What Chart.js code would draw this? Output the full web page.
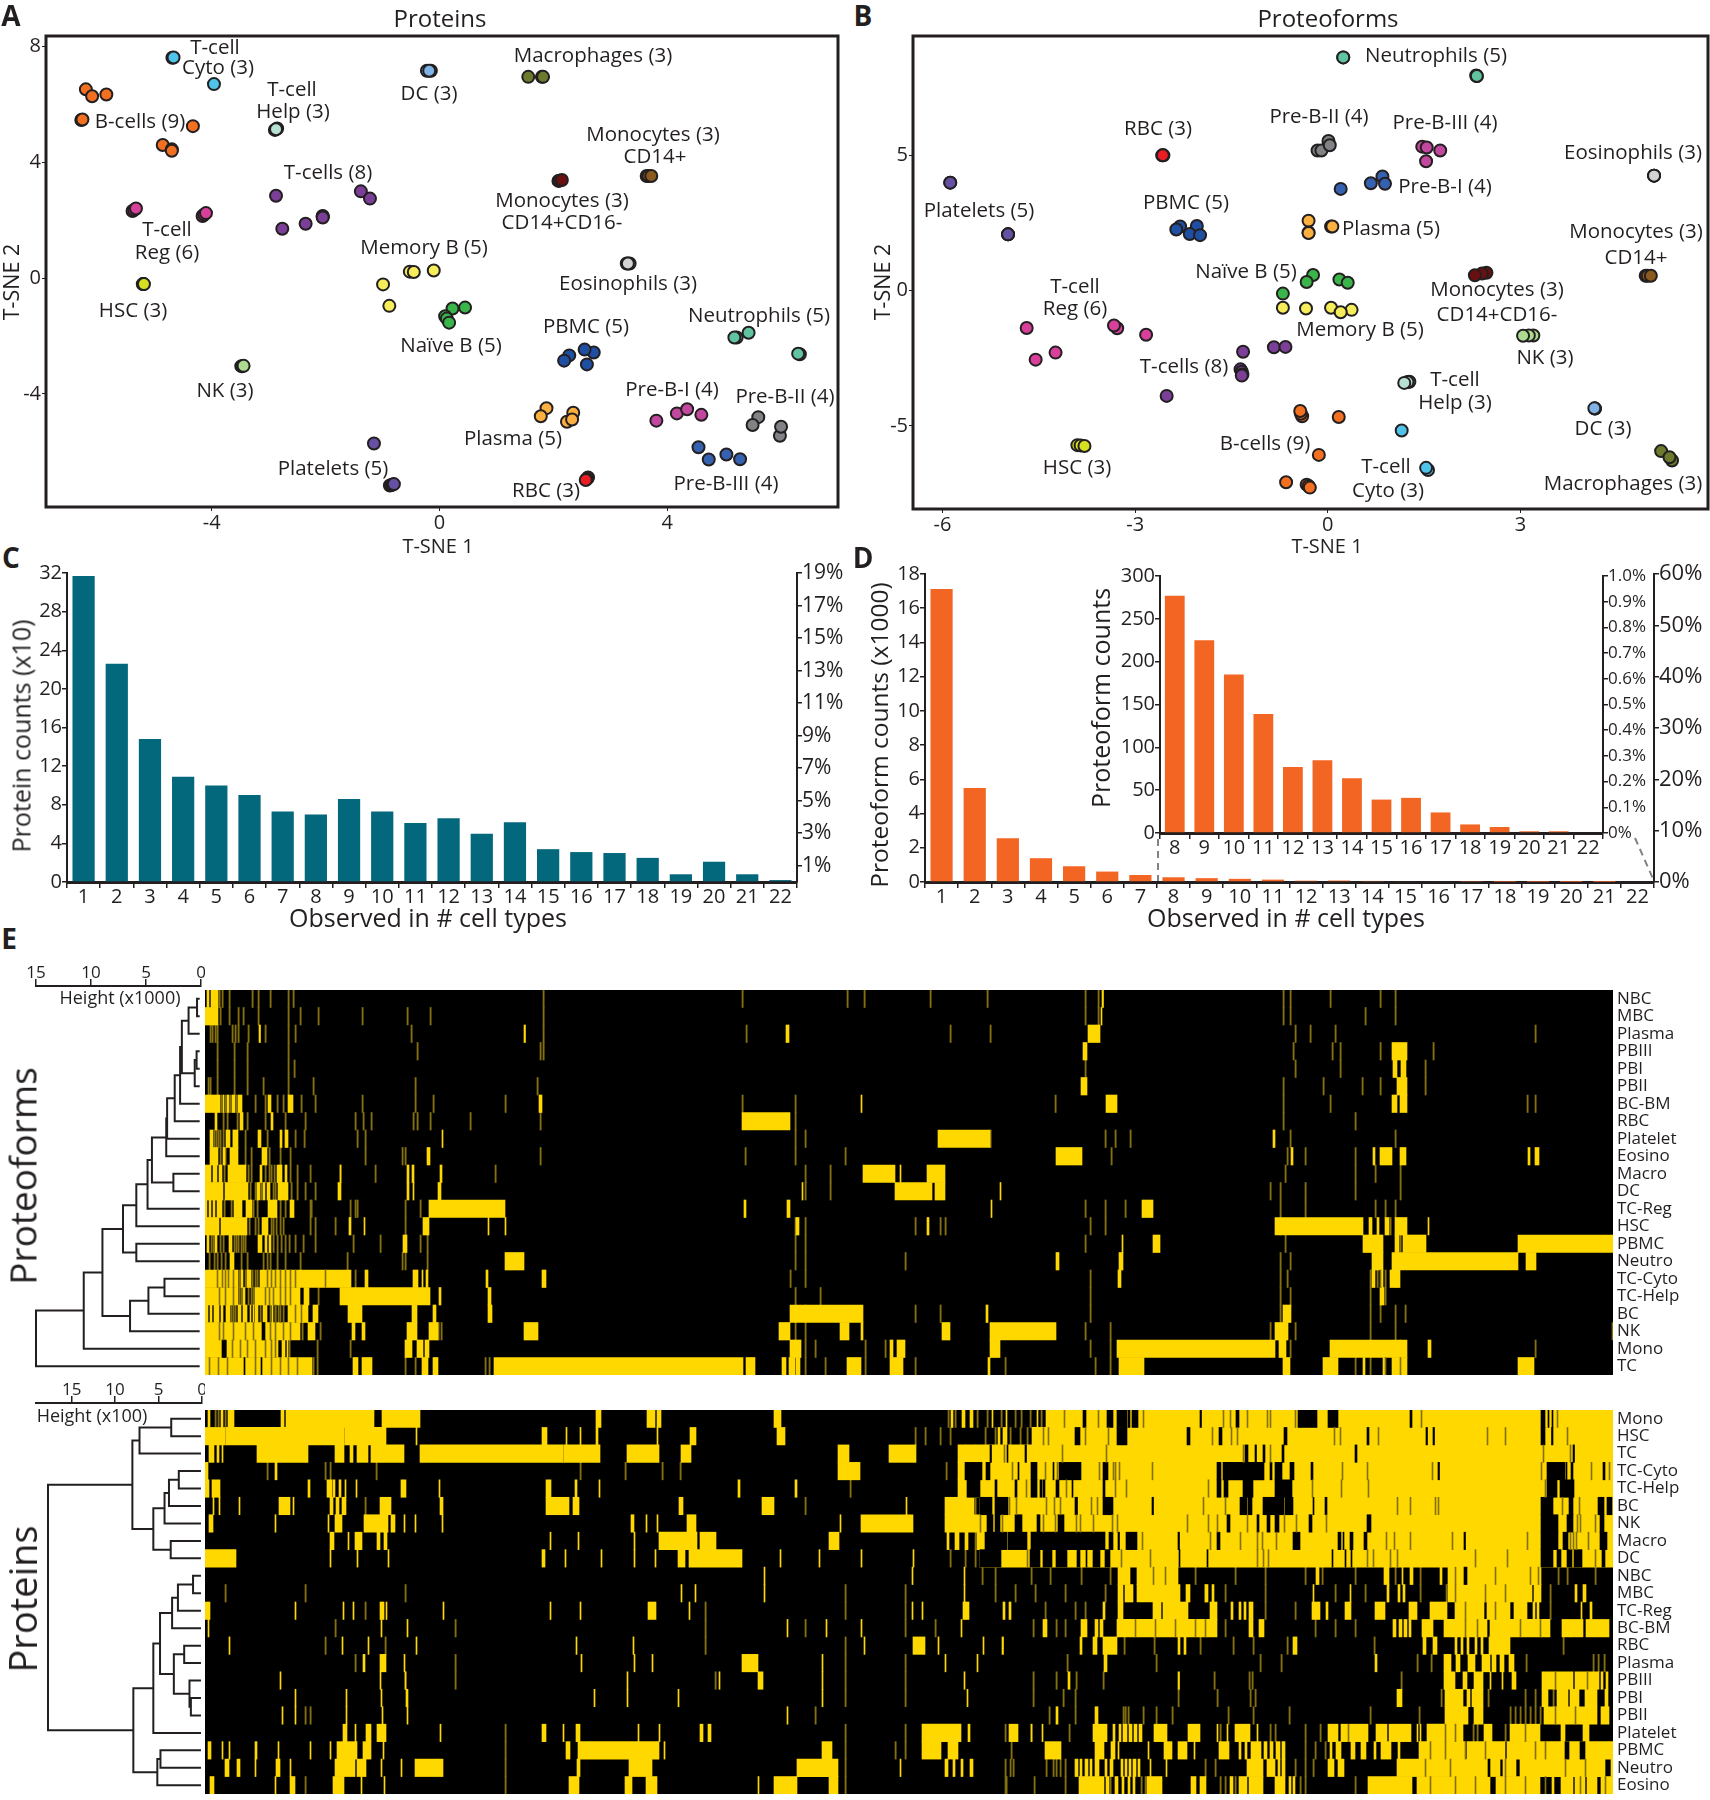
<!DOCTYPE html>
<html>
<head>
<meta charset="utf-8">
<title>Proteins and proteoforms</title>
<script src="https://cdn.jsdelivr.net/npm/chart.js@4/dist/chart.umd.min.js"></script>
<style>
  body { margin: 0; background: #fff; }
  #page { position: relative; width: 1710px; height: 1800px; overflow: hidden; background: #fff; }
  canvas { position: absolute; }
  .note { position: absolute; white-space: nowrap; color: #231f20; font-family: "Open Sans", sans-serif; transform: translate(-50%, -50%); line-height: 1; }
</style>
</head>
<body>
<div id="page"></div>
<script>
// A: proteins t-sne, one list per cell type
var aTcyto = [[-4.69,7.6],[-4.67,7.61],[-3.96,6.69]];
var aBcell = [[-6.21,6.51],[-6.10,6.27],[-5.85,6.33],[-6.29,5.45],[-6.27,5.47],[-4.33,5.24],[-4.86,4.59],[-4.70,4.44],[-4.70,4.39]];
var aThelp = [[-2.89,5.11],[-2.85,5.16],[-2.87,5.13]];
var aDC = [[-0.22,7.15],[-0.15,7.15],[-0.18,7.15]];
var aMacro = [[1.56,6.94],[1.80,6.94],[1.82,6.94]];
var aMono14 = [[3.64,3.52],[3.67,3.52],[3.72,3.52]];
var aMono1416 = [[2.09,3.35],[2.11,3.36],[2.15,3.38]];
var aTcell = [[-2.87,2.84],[-1.38,2.99],[-1.22,2.74],[-2.05,2.14],[-2.05,2.12],[-2.05,2.09],[-2.35,1.87],[-2.76,1.70]];
var aTreg = [[-5.39,2.31],[-5.36,2.35],[-5.33,2.40],[-4.16,2.14],[-4.13,2.19],[-4.10,2.24]];
var aHSC = [[-5.21,-0.21],[-5.20,-0.21],[-5.19,-0.21]];
var aMemB = [[-0.52,0.22],[-0.45,0.21],[-0.10,0.26],[-0.99,-0.22],[-0.88,-0.96]];
var aNaiveB = [[0.23,-1.05],[0.45,-1.02],[0.10,-1.32],[0.13,-1.4],[0.17,-1.54]];
var aEosino = [[3.29,0.5],[3.34,0.5],[3.31,0.5]];
var aNeutro = [[5.43,-1.89],[5.22,-2.05],[5.18,-2.05],[6.33,-2.63],[6.30,-2.61]];
var aPBMC = [[2.28,-2.67],[2.19,-2.85],[2.71,-2.57],[2.55,-2.47],[2.59,-2.98]];
var aNK = [[-3.48,-3.04],[-3.46,-3.04],[-3.44,-3.03]];
var aPlasma = [[1.88,-4.49],[1.78,-4.77],[2.35,-4.65],[2.24,-4.96],[2.33,-4.88]];
var aPreB1 = [[3.81,-4.92],[4.17,-4.67],[4.35,-4.53],[4.60,-4.72]];
var aPreB2 = [[5.60,-4.80],[5.50,-5.07],[5.98,-5.44],[6.0,-5.13]];
var aPreB3 = [[4.55,-5.84],[4.73,-6.26],[5.04,-6.09],[5.28,-6.25]];
var aPlatelet = [[-1.15,-5.71],[-0.87,-7.16],[-0.84,-7.14],[-0.82,-7.12],[-0.80,-7.11]];
var aRBC = [[2.61,-6.88],[2.59,-6.93],[2.57,-6.97]];
var aTicksX = [-4,0,4];
var aTicksY = [8,4,0,-4];

// B: proteoforms t-sne
var bNeutro = [[0.24,8.62],[0.24,8.62],[2.31,7.95],[2.32,7.93],[2.32,7.93]];
var bRBC = [[-2.58,5.0],[-2.56,5.0],[-2.57,5.0]];
var bPreB2 = [[0.01,5.53],[-0.16,5.18],[-0.10,5.18],[0.03,5.37]];
var bPreB3 = [[1.47,5.32],[1.54,5.29],[1.75,5.18],[1.53,4.78]];
var bPreB1 = [[0.85,4.22],[0.67,3.97],[0.89,3.95],[0.20,3.76]];
var bPlatelet = [[-5.88,3.99],[-5.88,3.99],[-4.98,2.08],[-4.98,2.08],[-4.98,2.08]];
var bEosino = [[5.08,4.25],[5.08,4.25],[5.08,4.25]];
var bPBMC = [[-2.30,2.37],[-2.36,2.26],[-2.04,2.39],[-2.15,2.09],[-1.99,2.05]];
var bPlasma = [[-0.30,2.58],[-0.30,2.15],[-0.30,2.13],[0.05,2.37],[0.07,2.37]];
var bNaiveB = [[-0.23,0.58],[-0.33,0.32],[0.18,0.41],[0.31,0.29],[-0.70,-0.11]];
var bMemB = [[-0.70,-0.63],[-0.34,-0.66],[0.05,-0.63],[0.37,-0.71],[0.20,-0.80]];
var bMono1416 = [[2.47,0.66],[2.40,0.63],[2.29,0.57]];
var bMono14 = [[4.95,0.55],[4.98,0.55],[5.03,0.55]];
var bTreg = [[-4.69,-1.38],[-3.28,-1.39],[-3.33,-1.29],[-2.83,-1.63],[-4.24,-2.29],[-4.55,-2.55]];
var bNK = [[3.20,-1.66],[3.13,-1.66],[3.04,-1.67]];
var bTcell = [[-0.84,-2.09],[-0.66,-2.08],[-1.32,-2.26],[-1.36,-2.91],[-1.34,-3.0],[-1.33,-3.1],[-1.34,-3.14],[-2.51,-3.89]];
var bThelp = [[1.27,-3.37],[1.24,-3.38],[1.19,-3.41]];
var bDC = [[4.16,-4.36],[4.16,-4.36],[4.15,-4.35]];
var bBcell = [[-0.40,-4.64],[-0.42,-4.55],[-0.43,-4.45],[0.17,-4.67],[-0.14,-6.07],[-0.65,-7.08],[-0.33,-7.17],[-0.30,-7.22],[-0.28,-7.28]];
var bTcyto = [[1.15,-5.17],[1.56,-6.63],[1.53,-6.55]];
var bHSC = [[-3.90,-5.71],[-3.85,-5.72],[-3.79,-5.74]];
var bMacro = [[5.19,-5.93],[5.36,-6.28],[5.32,-6.16]];
var bTicksX = [-6,-3,0,3];
var bTicksY = [5,0,-5];

// C and D bars
var typeLabels = ['1','2','3','4','5','6','7','8','9','10','11','12','13','14','15','16','17','18','19','20','21','22'];
var proteinCounts = [31.7,22.6,14.8,10.9,10.0,9.0,7.3,7.0,8.6,7.3,6.1,6.6,5.0,6.2,3.4,3.1,3.0,2.5,0.8,2.1,0.8,0.2];
var proteinPctTicks = [1,3,5,7,9,11,13,15,17,19];
var proteinCountTicks = [0,4,8,12,16,20,24,28,32];
var proteoformCounts = [17.12,5.49,2.56,1.39,0.92,0.61,0.41,0.277,0.225,0.185,0.139,0.077,0.085,0.064,0.039,0.041,0.024,0.01,0.007,0.002,0.002,0];
var proteoformCountTicks = [0,2,4,6,8,10,12,14,16,18];
var proteoformPctTicks = [0,10,20,30,40,50,60];
var insetLabels = ['8','9','10','11','12','13','14','15','16','17','18','19','20','21','22'];
var insetCounts = [277,225,185,139,77,85,64,39,41,24,10,7,2,2,0];
var insetCountTicks = [0,50,100,150,200,250,300];
var insetPctTicks = [0,0.1,0.2,0.3,0.4,0.5,0.6,0.7,0.8,0.9,1.0];

// E heatmaps, ranges in column rank, rows top to bottom
// solid = full yellow, faint = dim lines on black, gaps = black ranges or dim lines on yellow
var pfRows = ['NBC','MBC','Plasma','PBIII','PBI','PBII','BC-BM','RBC','Platelet','Eosino','Macro','DC','TC-Reg','HSC','PBMC','Neutro','TC-Cyto','TC-Help','BC','NK','Mono','TC'];
var pfSolid = [
  [[2,4],[6,13],[897,898.5]],
  [[0,13],[896,897]],
  [[54,55.5],[319,320.5],[581,584],[883,895]],
  [[878,882],[1187,1202]],
  [[1188,1192],[1196,1201]],
  [[876,882],[1192,1202]],
  [[0,15],[18,19],[22,24],[27,30],[33,37],[63,66],[83,88],[334,337],[656,657],[901,912],[1187,1192],[1195,1202]],
  [[10,12],[35,38],[66,68],[537,585]],
  [[5,8],[21,25],[28,33],[53,56],[75,77],[80,83],[237,238],[733,785],[1068,1070]],
  [[5,13],[18,20],[25,33],[57,62],[222,225],[851,877],[1086,1088],[1168,1170],[1175,1187],[1195,1201],[1323,1325],[1330,1334]],
  [[0,6],[8,12],[14,17],[23,41],[55,57],[72,77],[80,82],[135,136],[202,204],[207,209],[235,237],[658,690],[695,696],[722,740]],
  [[0,18],[20,43],[52,55],[58,60],[62,65],[73,83],[133,136],[202,204],[208,209],[233,236],[597,598],[690,727],[730,740],[795,796]],
  [[0,2],[4,6],[8,10],[12,17],[29,37],[41,47],[63,72],[85,89],[224,300],[539,541],[582,585],[786,787],[937,948]],
  [[0,14],[16,42],[57,63],[144,146],[159,160],[218,224],[283,284],[300,301],[591,594],[722,724],[1070,1158],[1164,1167],[1172,1174],[1180,1184],[1190,1202],[1223,1224]],
  [[2,4],[10,12],[24,27],[53,57],[60,62],[64,66],[198,202],[917,918],[948,955],[1158,1178],[1190,1194],[1198,1202],[1202,1221],[1313,1408]],
  [[25,29],[300,319],[851,854],[914,918],[1167,1178],[1187,1313],[1321,1331]],
  [[0,33],[36,38],[42,46],[55,146],[160,163],[208,213],[217,218],[221,223],[281,283],[337,341],[913,916],[1167,1170],[1176,1178],[1185,1195]],
  [[0,33],[38,40],[50,95],[99,104],[135,225],[234,236],[283,286],[1175,1179]],
  [[0,3],[5,7],[9,14],[16,18],[21,25],[33,36],[38,42],[45,46],[48,49],[50,53],[58,62],[67,68],[83,103],[108,113],[143,157],[207,212],[228,231],[283,287],[585,658],[781,783],[1078,1086]],
  [[0,57],[60,95],[103,110],[147,150],[157,160],[202,212],[224,233],[319,333],[574,585],[635,644],[656,658],[737,745],[785,851],[1070,1083]],
  [[0,17],[22,73],[77,80],[82,83],[200,207],[212,218],[220,224],[585,596],[685,688],[692,700],[785,795],[912,1070],[1074,1081],[1125,1202],[1223,1226]],
  [[0,107],[148,153],[157,167],[217,223],[228,233],[289,538],[541,550],[577,581],[584,590],[591,595],[642,656],[685,698],[783,785],[914,939],[1078,1085],[1118,1133],[1158,1160],[1178,1180],[1187,1202],[1313,1329]]
];
var pfFaint = [
  [14,17,24,47,53,65,83,88,338,537,642,659,725,782,880,893,1078,1085,1125,1175,1190],
  [15,24,33,38,53,83,95,113,157,202,225,338,880,893,1078,1085,1160,1190],
  [5,7,10,12,27,30,33,43,60,83,90,206,338,541,745,785,1090,1105,1130,1330],
  [12,29,42,83,212,335,338,1088,1127,1135,1175,1228],
  [12,29,42,83,89,880,1090,1135,1220],
  [3,5,12,29,42,58,83,108,210,332,1078,1118,1157,1175,1220],
  [16,20,25,31,50,60,72,78,96,110,157,210,228,300,537,590,850,1078,1125,1322,1330],
  [18,22,32,42,60,80,100,150,158,166,208,212,225,265,335,590,1078,1150],
  [9,11,13,15,18,28,40,62,90,99,152,160,590,600,785,900,910,925,1085,1190],
  [15,20,40,46,64,75,85,160,197,200,335,540,590,640,906,1082,1100,1150],
  [19,43,46,60,64,66,69,85,92,105,135,170,290,600,625,1080,1150,1170,1195],
  [45,50,56,68,70,86,92,100,110,600,625,1065,1075,1100,1150,1195],
  [19,26,48,52,68,75,80,105,106,145,152,150,200,215,880,900,920,1075,1100,1170,1180,1190],
  [44,50,53,66,68,71,75,78,105,110,200,130,590,600,710,735,740,885,900,1075,1185],
  [6,8,15,18,29,31,33,36,38,40,68,72,76,80,84,90,98,148,222,110,175,215,590,600,880,1080,1170,1195],
  [4,9,12,16,20,36,42,58,62,65,72,80,95,142,197,200,222,590,600,700,1075,1085],
  [34,40,47,50,52,150,585,600,885,1075,1082,1165,1172,1180,1190],
  [34,36,43,46,48,113,590,615,885,1075,1085,1165,1180],
  [26,28,30,55,65,70,73,78,590,600,710,735,885,1075,1165,1175,1190,1200],
  [58,97,115,233,236,590,600,880,905,1065,1090,1165,1190,1407],
  [18,20,84,112,145,590,600,610,660,680,885,905,1085,1195,1330],
  [108,112,200,210,280,284,600,620,660,710,800,890,905,1150,1165,1195]
];
var pfGaps = [
  [],[],[],[],[],[],[],[],[],[],[],[],[],[],[],[],
  [12,17,20,23,28,62,66,70,75,80,85,90,120,1175],
  [14,20,28,60,64,68,75,80,85],
  [70,75,90,96],
  [14,18,28,40,48,65,70,78,85,[57,60]],
  [[17,21],27,35,42,50,60,66,70],
  [4,13,22,[39,40],50,[56,57],66,75,83,92,1180,1195]
];

var prRows = ['Mono','HSC','TC','TC-Cyto','TC-Help','BC','NK','Macro','DC','NBC','MBC','TC-Reg','BC-BM','RBC','Plasma','PBIII','PBI','PBII','Platelet','PBMC','Neutro','Eosino'];
var prSolid = [
  [[3,5],[16,18],[23,29],[76,79],[81,85],[85,169],[177,215],[391,396],[442,450],[452,456],[569,576],[746,748],[757,760],[765,768],[787,788],[801,802],[832,833],[841,1408]],
  [[0,20],[21,139],[140,181],[211,212],[337,342],[361,362],[375,376],[391,393],[452,453],[485,491],[572,580],[793,795],[798,802],[827,1408]],
  [[4,9],[12,14],[17,18],[52,103],[130,139],[145,148],[152,163],[166,199],[215,358],[359,395],[422,454],[476,486],[633,644],[684,711],[753,1408]],
  [[0,3],[70,72],[633,655],[753,1408]],
  [[0,4],[7,15],[103,105],[122,127],[128,130],[134,136],[140,141],[151,152],[196,201],[234,235],[341,346],[370,372],[394,395],[533,535],[590,592],[753,1408]],
  [[8,9],[14,15],[34,35],[74,85],[88,89],[125,128],[131,134],[137,141],[175,186],[235,238],[341,364],[368,374],[474,478],[557,569],[701,702],[740,769],[775,1408]],
  [[4,8],[70,71],[123,124],[130,137],[159,183],[186,190],[199,200],[210,211],[237,238],[426,429],[441,442],[452,453],[482,491],[635,636],[656,708],[740,1408]],
  [[125,129],[143,144],[150,157],[172,175],[179,182],[345,346],[373,374],[429,430],[454,492],[495,511],[624,634],[742,744],[750,754],[760,763],[772,1408]],
  [[0,31],[125,126],[152,153],[183,184],[337,340],[360,361],[396,397],[429,430],[450,451],[473,480],[484,537],[575,576],[614,615],[656,657],[708,709],[775,1408]],
  [[559,560],[707,708],[759,760],[913,925],[932,973],[1111,1114],[1179,1184],[1197,1198],[1205,1208],[1235,1237],[1243,1336]],
  [[476,477],[490,491],[559,560],[759,760],[913,918],[920,928],[932,975],[981,985],[1000,1003],[1007,1009],[1108,1109],[1145,1146],[1182,1184],[1193,1195],[1198,1200],[1243,1327],[1329,1336],[1370,1372],[1378,1381]],
  [[0,5],[90,91],[138,139],[148,149],[175,179],[181,182],[238,239],[345,346],[375,376],[443,451],[484,485],[707,708],[717,718],[758,764],[798,800],[804,806],[898,900],[913,918],[948,956],[958,983],[1005,1012],[1026,1028],[1034,1036],[1039,1041],[1044,1048],[1107,1115],[1121,1123],[1140,1146],[1170,1180],[1204,1212],[1225,1242],[1250,1279],[1282,1305],[1309,1322],[1328,1330],[1332,1334],[1376,1377],[1385,1387]],
  [[3,4],[176,177],[202,203],[582,583],[621,622],[656,657],[756,757],[838,842],[876,882],[890,893],[895,898],[912,1012],[1044,1048],[1054,1059],[1188,1191],[1194,1197],[1199,1202],[1204,1206],[1217,1228],[1239,1282],[1285,1345],[1357,1378],[1381,1404]],
  [[24,25],[137,138],[163,164],[211,212],[371,372],[428,429],[659,660],[708,720],[733,734],[778,779],[797,798.5],[875,877],[888,892],[898,912],[973,975],[979,981],[1088,1092],[1218,1221],[1228,1232],[1250,1252],[1256,1258],[1262,1264],[1270,1272],[1276,1278],[1284,1305]],
  [[158,160],[175,181],[199,200],[376,377],[429,430],[447,448],[537,553],[617,618],[740,741],[772,773],[899,902],[1170,1172],[1239,1246],[1251,1255],[1263,1270],[1277,1285],[1287,1291],[1295,1299],[1304,1309]],
  [[75,76],[175,176],[200,201],[422,423],[514,515],[553,558],[617,618],[759,760],[863,865],[973,974.5],[1239,1250],[1258,1262],[1269,1278],[1285,1286],[1297,1298],[1307,1311],[1337,1368],[1370,1394],[1396,1398],[1401,1403]],
  [[90,91],[141,142],[176,177],[201,203],[389,390],[422,423],[473,474],[617,618],[762,763],[1192,1197],[1240,1258],[1262,1265],[1267,1278],[1337,1343],[1352,1363],[1365,1374],[1380,1392],[1400,1403]],
  [[77,78],[90,91],[141,142],[177,178],[202,203],[582,583],[851,853],[890,893],[1240,1263],[1269,1278],[1339,1392],[1396,1404]],
  [[138,142],[150,151],[161,166],[172,181],[235,236],[337,341],[358,359],[371,375],[433,434],[454,455],[495,498],[503,506],[717,756],[763,765],[804,813],[826,827],[837,838],[888,902],[908,910],[914,916],[918,922],[924,927],[929,932],[934,937],[949,962],[983,995],[1012,1013],[1022,1023],[1030,1045],[1052,1053],[1123,1133],[1136,1163],[1171,1182],[1184,1206],[1212,1213],[1215,1216],[1222,1258],[1279,1287],[1305,1335],[1356,1360],[1378,1384]],
  [[3,6],[17,18],[24,25],[50,52],[73,74],[105,106],[125,126],[132,152],[158,166],[178,179],[361,365],[373,454],[459,460],[617,627],[717,736],[743,753],[840,856],[890,899],[906,910],[913,914],[943,944],[959,967],[973,982],[989,990],[1014,1024],[1034,1036],[1040,1042],[1046,1056],[1059,1062],[1065,1068],[1071,1075],[1077,1080],[1125,1127],[1131,1136],[1146,1150],[1156,1161],[1169,1171],[1176,1186],[1193,1195],[1214,1260],[1262,1300],[1302,1408]],
  [[20,24],[32,35],[50,51],[71,75],[85,86],[130,150],[152,161],[176,177],[196,197],[210,238],[372,375],[424,447],[592,633],[695,696],[740,743],[748,750],[756,758],[765,768],[870,873],[875,877],[880,883],[885,887],[890,894],[900,902],[905,908],[916,918],[920,922],[924,926],[928,931],[933,935],[945,946],[961,962],[1042,1058],[1062,1070],[1073,1075],[1077,1080],[1123,1129],[1133,1139],[1192,1220],[1221,1245],[1246,1283],[1285,1295],[1298,1311],[1315,1400],[1406,1408]],
  [[5,9],[70,71],[85,90],[128,139],[156,157],[179,180],[364,374],[420,427],[441,452],[553,554],[569,592],[624,633],[874,899],[901,904],[910,913],[917,919],[923,925],[928,930],[942,957],[986,991],[995,1001],[1025,1028],[1034,1042],[1044,1058],[1070,1080],[1084,1086],[1088,1090],[1163,1207],[1212,1285],[1291,1335],[1347,1349],[1356,1368],[1370,1380],[1382,1392],[1396,1408]]
];
var prFaint = [
  [10,13,20,743,750,772,782,796,810,816,825,836,1343],
  [20,139,710,720,735,745,780,790,805,815,822],
  [358,760,770],
  [62,120,125,171,375,420,457,475,741],
  [645,760,770,790],
  [160,600,745,770,785,795],
  [1355,1385],
  [770],
  [745,760,770,785],
  [777,790,826,845,876,905,990,1030,1060,1100,1117,1150,1190,1215,1353,1362,1390],
  [20,100,200,640,700,790,810,830,860,900,1000,1020,1060,1130,1160,1215,1241,1345],
  [160,500,640,700,760,840,870,880,1060,1090,1345],
  [130,250,500,600,700,730,828,851,860,1020,1110,1130,1150,1365],
  [120,180,500,640,919,949,995,1028,1048,1082,1169,1358],
  [150,250,640,700,862,951,1055,1076,1212,1226,1321,1388,1393,1399],
  [200,250,510,640,700,828,851,871,898,1009,1044,1047,1196],
  [640,700,828,858,870,973,1012,1045,1050,1236,1243,1283,1320,1330,1348],
  [100,105,610,844,870,918,920,923,938,951,967,1023,1048,1084,1165,1214,1305,1310,1315,1320,1325,1330,1335],
  [300,640,700,800,826,864,1015,1065,1070,1100,1115,1268,1272,1300],
  [300,640,700,690,806,1078,1100,1110,1120],
  [300,640,800,805,808,841,848,851,855,860,1000,1010,1090,1100,1108],
  [100,300,640,800,801,829,860,905,936,940,1015,1020,1030,1095,1100,1150]
];
var prGaps = [
  [[878,881],[902,908],[912,922],[923,925],[927,933],[995,996.5],[1031,1034],[1093,1095],[1095,1112],[1123,1133],[1205,1207],[1336,1340],[1343,1344],[1347,1348],859,893,938,1018,1025,1042,1062,1065,1090,1216,1352],
  [[870,875],[912,922],[982,985],[1014,1017],[1079,1082],[1162,1164],[1221,1222.5],[1228,1229.5],[1336,1340],[1346.5,1348],838,843,880,903,1007,1026,1032,1129,1135,1173,1282,1300,1362],
  [[785,786.5],[802,803],[820,821.5],[1040,1043],[1050,1051.5],[1058,1060],[1077,1079],[1150,1152],[1368,1369.5],799,857,901,1038,1065,1338,1365],
  [[760,777],[781,785],[813,814],[826,832],[848,849],[854,876],[898,903],[1012,1016],[1018,1059],[1065,1067],[1070,1077],[1085,1089],[1106,1108],[1233,1234.5],[1342,1360],[1361,1362],[1366,1368],[1398,1400],807,840,852,894,908,910,914,947,1137,1162,1227,1336,1386,1404],
  [[762,775],[790,792],[810,812],[826,832],[835,837],[838,840],[851,854],[867,868],[898,900],[1012,1016],[1019,1023],[1038,1048],[1070,1087],[1342,1352],[1355,1369],821,861,910,921,1003,1107,1136,1163,1340],
  [[775,787],[790,803],[870,872.5],[898,908],[947,948.5],[1035,1042],[1043,1047],[1058,1079],[1080,1088],[1108,1109],[1120,1122],[1336,1348],[1364,1368],[1393,1399],[1402,1407],804,811,841,849,855,886,892,998,1020,1192,1205,1230,1233,1357,1374],
  [[782,788],[790,795],[810,817],[832,835],[853,859],[1022,1025],[1052,1054],[1062,1065],[1070,1074],[1104,1107],[1162,1166],[1336,1353],[1362,1368],[1395,1399],775,797,838,850,871,875,888,907,912,982,1003,1012,1042,1079,1091,1121,1372,1375,1390],
  [[780,802],[803,822],[826,900],[904,908],[913,914.5],[921,932],[973,974.5],[1012,1015],[1088,1095],[1133,1136],[1138,1139],[1145,1148],[1159,1162],[1259,1260.5],[1336,1353],[1358,1363],[1395,1402],937,1005,1035,1052,1057,1071,1181,1189,1205,1247,1322,1365,1368,1371,1383],
  [[775,796],[825,835],[838,847],[851,862],[872,875],[881,882],[888,895],[900,905],[974,975],[1002,1003],[1127,1128],[1140,1141],[1146,1147],[1336,1348],[1352,1356],[1362,1367],[1369,1377],[1397,1400],822,916,945,1052,1058,1063,1162,1168,1185,1192,1270,1302,1390],
  [[1259,1262],1250,1290,1325,1333,948,960],
  [1250,1280,1300],
  [1260,1290],
  [930,950,970,990,1000,1260,1272,1315,1335],
  [],[],[1350,1382],[],[1350,1370],
  [1143,1240,1250,1320],
  [1225,1240,1260,1280,1330,1340,[1360,1364],[1375,1380]],
  [1220,1245,[1283,1285],1300,1360,1380],
  [1225,1250,1270,1300,1320,1340,1375,1400]
];

// dendrograms: [height, childA, childB], child >= 0 is a row, child < 0 is merge -(n+1)
var pfMerges = [
  [0.36,0,1],[1.13,-1,2],[0.40,3,4],[0.57,-3,5],[1.74,-2,-4],[1.90,-5,6],[2.39,-6,7],[3.08,-7,8],[3.16,-8,9],
  [2.51,10,11],[4.46,-9,-10],[4.86,-11,12],[5.88,-12,13],[5.88,14,15],[7.09,-13,-14],
  [3.32,16,17],[4.78,-16,18],[6.45,-17,19],[8.96,-15,-18],[10.66,-19,20],[15.0,-20,21]
];
var prMerges = [
  [3.54,0,1],[7.19,-1,2],[2.67,3,4],[3.80,-3,5],[4.31,-4,6],[3.60,7,8],[5.60,-5,-6],[8.01,-2,-7],
  [1.03,9,10],[2.77,-9,11],[3.44,-10,12],[2.05,13,14],[1.28,16,17],[1.44,15,-13],[3.24,-12,-14],[4.83,-11,-15],[5.60,-16,18],
  [4.78,19,20],[5.14,-18,21],[7.90,-17,-19],[17.72,-8,-20]
];
var pfHeightTicks = [0,5,10,15];
var prHeightTicks = [0,5,10,15];

var ink = '#231f20';
var teal = '#04687c';
var orange = '#f36523';
var gold = '#ffd800';
var dimGold = '#85700f';
var cellColor = {
  cyto:'#4fc3ea', bcell:'#f37021', help:'#b5e2d5', dc:'#7fb2e5', macro:'#6b7a2c', mono14:'#8a5a1e', mono1416:'#6b1010',
  tcell:'#7b3f98', treg:'#d9409b', hsc:'#d7df23', memb:'#f5ed5a', naive:'#39b54a', eos:'#d1d3d4', neutro:'#5fc49f',
  pbmc:'#1f4fa3', nk:'#addc91', plasma:'#fbb040', pink:'#c2479e', grey:'#808285', blue:'#3660b0', plate:'#6650a4', rbc:'#ed1c24'
};

var page = document.getElementById('page');
var font = '"Open Sans", sans-serif';
Chart.defaults.animation = false;
Chart.defaults.font.family = font;
Chart.defaults.color = ink;
Chart.defaults.plugins.legend.display = false;
Chart.defaults.plugins.tooltip.enabled = false;

function addCanvas(box, gut) {
  var c = document.createElement('canvas');
  c.width = box.r - box.l + gut.l + gut.r;
  c.height = box.b - box.t + gut.t + gut.b;
  c.style.left = (box.l - gut.l) + 'px';
  c.style.top = (box.t - gut.t) + 'px';
  page.appendChild(c);
  return c;
}
function note(text, x, y, size, rot, weight) {
  var d = document.createElement('div');
  d.className = 'note';
  d.textContent = text;
  d.style.left = x + 'px';
  d.style.top = y + 'px';
  d.style.fontSize = (size || 20.5) + 'px';
  if (rot) d.style.transform = 'translate(-50%,-50%) rotate(' + rot + 'deg)';
  if (weight) d.style.fontWeight = weight;
  page.appendChild(d);
}
function setTicks(list) {
  return function (s) { s.ticks = list.map(function (v) { return {value: v}; }); };
}
function fixW(w) { return function (s) { s.width = w; }; }
function fixH(h) { return function (s) { s.height = h; }; }

var framePlugin = {
  id: 'frame',
  afterDatasetsDraw: function (chart) {
    var a = chart.chartArea, ctx = chart.ctx;
    ctx.save();
    ctx.lineWidth = 3;
    ctx.strokeStyle = ink;
    ctx.strokeRect(a.left, a.top, a.right - a.left, a.bottom - a.top);
    ctx.restore();
  }
};
var blackPlugin = {
  id: 'blackBg',
  beforeDatasetsDraw: function (chart) {
    var a = chart.chartArea;
    chart.ctx.save();
    chart.ctx.fillStyle = '#000';
    chart.ctx.fillRect(a.left, a.top, a.right - a.left, a.bottom - a.top);
    chart.ctx.restore();
  }
};

function tsne(box, groups, xr, yr, xt, yt) {
  var gut = {l: 40, r: 12, t: 12, b: 30};
  new Chart(addCanvas(box, gut), {
    type: 'scatter',
    data: {datasets: groups.map(function (g) {
      return {
        data: g[1].map(function (p) { return {x: p[0], y: p[1]}; }),
        backgroundColor: cellColor[g[0]], borderColor: ink, borderWidth: 2, pointRadius: 6
      };
    })},
    options: {
      responsive: false,
      layout: {padding: {top: gut.t, right: gut.r}},
      scales: {
        x: {type: 'linear', min: xr[0], max: xr[1], afterBuildTicks: setTicks(xt), afterFit: fixH(gut.b),
          grid: {drawOnChartArea: false, tickLength: 4, color: ink}, border: {display: false},
          ticks: {font: {size: 20}, padding: 0, maxRotation: 0, callback: function (v) { return String(v); }}},
        y: {type: 'linear', min: yr[0], max: yr[1], afterBuildTicks: setTicks(yt), afterFit: fixW(gut.l),
          grid: {drawOnChartArea: false, tickLength: 4, color: ink}, border: {display: false},
          ticks: {font: {size: 20}, padding: 1, callback: function (v) { return String(v); }}}
      }
    },
    plugins: [framePlugin]
  });
}

tsne({l: 46, r: 838, t: 35, b: 507}, [
  ['cyto',aTcyto],['bcell',aBcell],['help',aThelp],['dc',aDC],['macro',aMacro],['mono14',aMono14],['mono1416',aMono1416],
  ['tcell',aTcell],['treg',aTreg],['hsc',aHSC],['memb',aMemB],['naive',aNaiveB],['eos',aEosino],['neutro',aNeutro],
  ['pbmc',aPBMC],['nk',aNK],['plasma',aPlasma],['pink',aPreB1],['grey',aPreB2],['blue',aPreB3],['plate',aPlatelet],['rbc',aRBC]
], [-6.91, 7.0], [-7.9, 8.35], aTicksX, aTicksY);

tsne({l: 913, r: 1708, t: 35, b: 509}, [
  ['neutro',bNeutro],['rbc',bRBC],['grey',bPreB2],['pink',bPreB3],['blue',bPreB1],['plate',bPlatelet],['eos',bEosino],
  ['pbmc',bPBMC],['plasma',bPlasma],['naive',bNaiveB],['memb',bMemB],['mono1416',bMono1416],['mono14',bMono14],['treg',bTreg],
  ['nk',bNK],['tcell',bTcell],['help',bThelp],['dc',bDC],['bcell',bBcell],['cyto',bTcyto],['hsc',bHSC],['macro',bMacro]
], [-6.46, 5.92], [-8.07, 9.41], bTicksX, bTicksY);

function barChart(box, gut, labels, values, color, yMax, yTicks, pctMax, pctTicks, pctFmt, size, pctSize, extra) {
  new Chart(addCanvas(box, gut), {
    type: 'bar',
    data: {labels: labels, datasets: [{data: values, backgroundColor: color, categoryPercentage: 0.67, barPercentage: 1, yAxisID: 'y'}]},
    options: {
      responsive: false,
      layout: {padding: {top: gut.t}},
      scales: {
        x: {type: 'category', offset: true, afterFit: fixH(gut.b),
          grid: {offset: true, drawOnChartArea: false, tickLength: 6, color: ink, lineWidth: 1.5},
          border: {color: ink, width: 3},
          ticks: {font: {size: size}, padding: -3, maxRotation: 0, autoSkip: false}},
        y: {type: 'linear', position: 'left', min: 0, max: yMax, afterBuildTicks: setTicks(yTicks), afterFit: fixW(gut.l),
          grid: {drawOnChartArea: false, tickLength: 5, color: ink, lineWidth: 1.5},
          border: {color: ink, width: 2},
          ticks: {font: {size: size}, padding: 0, callback: function (v) { return String(v); }}},
        yr: {type: 'linear', position: 'right', min: 0, max: pctMax, afterBuildTicks: setTicks(pctTicks), afterFit: fixW(gut.r),
          grid: {drawOnChartArea: false, tickLength: 5, color: ink, lineWidth: 1.5},
          border: {color: ink, width: 2},
          ticks: {font: {size: pctSize}, padding: 0, callback: pctFmt}}
      }
    },
    plugins: extra || []
  });
}
function pct(v) { return v + '%'; }
function pctInset(v) { return v === 0 ? '0%' : v.toFixed(1) + '%'; }

barChart({l: 67, r: 797, t: 573, b: 882}, {l: 36, r: 60, t: 14, b: 36}, typeLabels, proteinCounts, teal, 32, proteinCountTicks, 19, proteinPctTicks, pct, 20, 21);

// grey dashes from the main axis to the inset
var zoomDash = {
  id: 'zoomDash',
  afterDatasetsDraw: function (chart) {
    var ctx = chart.ctx, ox = 925 - 36, oy = 574 - 14;
    ctx.save();
    ctx.setLineDash([7, 5]);
    ctx.lineWidth = 2;
    ctx.strokeStyle = '#808285';
    ctx.beginPath();
    ctx.moveTo(1158 - ox, 839 - oy);
    ctx.lineTo(1158 - ox, 881 - oy);
    ctx.moveTo(1635 - ox, 838 - oy);
    ctx.lineTo(1654 - ox, 881 - oy);
    ctx.stroke();
    ctx.restore();
  }
};
barChart({l: 925, r: 1654, t: 574, b: 882}, {l: 36, r: 56, t: 14, b: 36}, typeLabels, proteoformCounts, orange, 18, proteoformCountTicks, 60, proteoformPctTicks, pct, 20, 22, [zoomDash]);
barChart({l: 1160, r: 1603, t: 576, b: 833}, {l: 42, r: 50, t: 14, b: 26}, insetLabels, insetCounts, orange, 300, insetCountTicks, 1, insetPctTicks, pctInset, 20, 17);

function heatmap(box, rows, solid, faint, gaps) {
  var gut = {l: 0, r: 97, t: 20, b: 20};
  var solidData = [], faintData = [], blackData = [], lineData = [];
  rows.forEach(function (name, i) {
    solid[i].forEach(function (r) { solidData.push({x: r, y: name}); });
    faint[i].forEach(function (v) { faintData.push({x: [v, v + 1.2], y: name}); });
    gaps[i].forEach(function (v) {
      if (typeof v === 'number') lineData.push({x: [v, v + 1], y: name});
      else blackData.push({x: v, y: name});
    });
  });
  // first dataset ends up on top
  new Chart(addCanvas(box, gut), {
    type: 'bar',
    data: {labels: rows, datasets: [
      {data: lineData, backgroundColor: dimGold},
      {data: blackData, backgroundColor: '#000'},
      {data: solidData, backgroundColor: gold},
      {data: faintData, backgroundColor: dimGold}
    ]},
    options: {
      indexAxis: 'y',
      responsive: false,
      grouped: false,
      barPercentage: 1,
      categoryPercentage: 1,
      layout: {padding: {top: gut.t, bottom: gut.b}},
      scales: {
        x: {type: 'linear', min: 0, max: 1408, display: false},
        y: {type: 'category', labels: rows, position: 'right', offset: true, afterFit: fixW(gut.r),
          grid: {display: false, drawTicks: false}, border: {display: false},
          ticks: {font: {size: 17}, padding: 4, autoSkip: false}}
      }
    },
    plugins: [blackPlugin]
  });
}
heatmap({l: 205, r: 1613, t: 990, b: 1375}, pfRows, pfSolid, pfFaint, pfGaps);
heatmap({l: 205, r: 1613, t: 1410, b: 1794}, prRows, prSolid, prFaint, prGaps);

function dendro(box, gut, merges, xMax, yMin, ticks) {
  var nodes = [], sets = [];
  function pos(c) {
    return c >= 0 ? {h: 0.12, y: c} : nodes[-c - 1];
  }
  merges.forEach(function (m) {
    var a = pos(m[1]), b = pos(m[2]);
    sets.push({
      data: [{x: a.h, y: a.y}, {x: m[0], y: a.y}, {x: m[0], y: b.y}, {x: b.h, y: b.y}],
      showLine: true, borderColor: ink, borderWidth: 2, pointRadius: 0, clip: false
    });
    nodes.push({h: m[0], y: (a.y + b.y) / 2});
  });
  new Chart(addCanvas(box, gut), {
    type: 'scatter',
    data: {datasets: sets},
    options: {
      responsive: false,
      layout: {padding: {left: gut.l, right: gut.r, bottom: gut.b}},
      scales: {
        x: {type: 'linear', position: 'top', reverse: true, min: 0, max: xMax, afterBuildTicks: setTicks(ticks), afterFit: fixH(gut.t),
          grid: {drawOnChartArea: false, tickLength: 7, color: ink, lineWidth: 1.5},
          border: {color: ink, width: 2},
          ticks: {font: {size: 17}, padding: -4, maxRotation: 0, callback: function (v) { return String(v); }}},
        y: {type: 'linear', min: yMin, max: 21.5, reverse: true, display: false}
      }
    }
  });
}
dendro({l: 36, r: 201, t: 986, b: 1375}, {l: 16, r: 4, t: 30, b: 4}, pfMerges, 15, -0.73, pfHeightTicks);
dendro({l: 36, r: 202, t: 1403, b: 1794}, {l: 16, r: 3, t: 30, b: 4}, prMerges, 19.1, -0.9, prHeightTicks);

// labels of the clusters and the panels, page pixels
var textNotes = [
  ['A',11,15,28,0,700],['B',863,15,28,0,700],['C',11,557,28,0,700],['D',863,557,28,0,700],['E',9,938,28,0,700],
  ['Proteins',440,18,24],['Proteoforms',1328,18,24],
  ['T-SNE 1',438,546,20],['T-SNE 1',1327,546,20],['T-SNE 2',11,282,21.5,-90],['T-SNE 2',882,282,21.5,-90],
  ['T-cell',215,46],['Cyto (3)',218,66],['Macrophages (3)',593,54],['DC (3)',429,92],['T-cell',292,88],['Help (3)',293,110],
  ['B-cells (9)',140,120],['Monocytes (3)',653,133],['CD14+',655,155],['T-cells (8)',328,171],['Monocytes (3)',562,199],['CD14+CD16-',562,221],
  ['T-cell',167,228],['Reg (6)',167,251],['Memory B (5)',424,246],['Eosinophils (3)',628,282],['HSC (3)',133,309],['Neutrophils (5)',759,314],
  ['PBMC (5)',586,325],['Naïve B (5)',451,344],['NK (3)',225,389],['Pre-B-I (4)',672,388],['Pre-B-II (4)',785,395],['Plasma (5)',513,437],
  ['Platelets (5)',333,467],['Pre-B-III (4)',726,482],['RBC (3)',546,489],
  ['Neutrophils (5)',1436,54],['Pre-B-II (4)',1319,115],['RBC (3)',1158,127],['Pre-B-III (4)',1445,121],['Eosinophils (3)',1633,151],['Pre-B-I (4)',1445,185],
  ['PBMC (5)',1186,201],['Platelets (5)',979,209],['Plasma (5)',1391,227],['Monocytes (3)',1636,230],['CD14+',1636,256],['Naïve B (5)',1246,270],
  ['T-cell',1075,285],['Reg (6)',1075,307],['Monocytes (3)',1497,288],['CD14+CD16-',1497,313],['Memory B (5)',1360,328],['NK (3)',1545,356],['T-cells (8)',1184,365],
  ['T-cell',1455,378],['Help (3)',1455,401],['DC (3)',1603,427],['B-cells (9)',1265,442],['HSC (3)',1077,466],['T-cell',1386,465],['Cyto (3)',1388,489],['Macrophages (3)',1623,482],
  ['Protein counts (x10)',21,736,25,-90],['Observed in # cell types',428,917,25],
  ['Proteoform counts (x1000)',879,735,24.5,-90],['Observed in # cell types',1286,917,25],['Proteoform counts',1100,698,25,-90],
  ['Height (x1000)',120,997,18],['Height (x100)',92,1415,18],
  ['Proteoforms',22,1176,37,-90],['Proteins',22,1599,38,-90]
];
textNotes.forEach(function (n) { note(n[0], n[1], n[2], n[3], n[4], n[5]); });
</script>
</body>
</html>
